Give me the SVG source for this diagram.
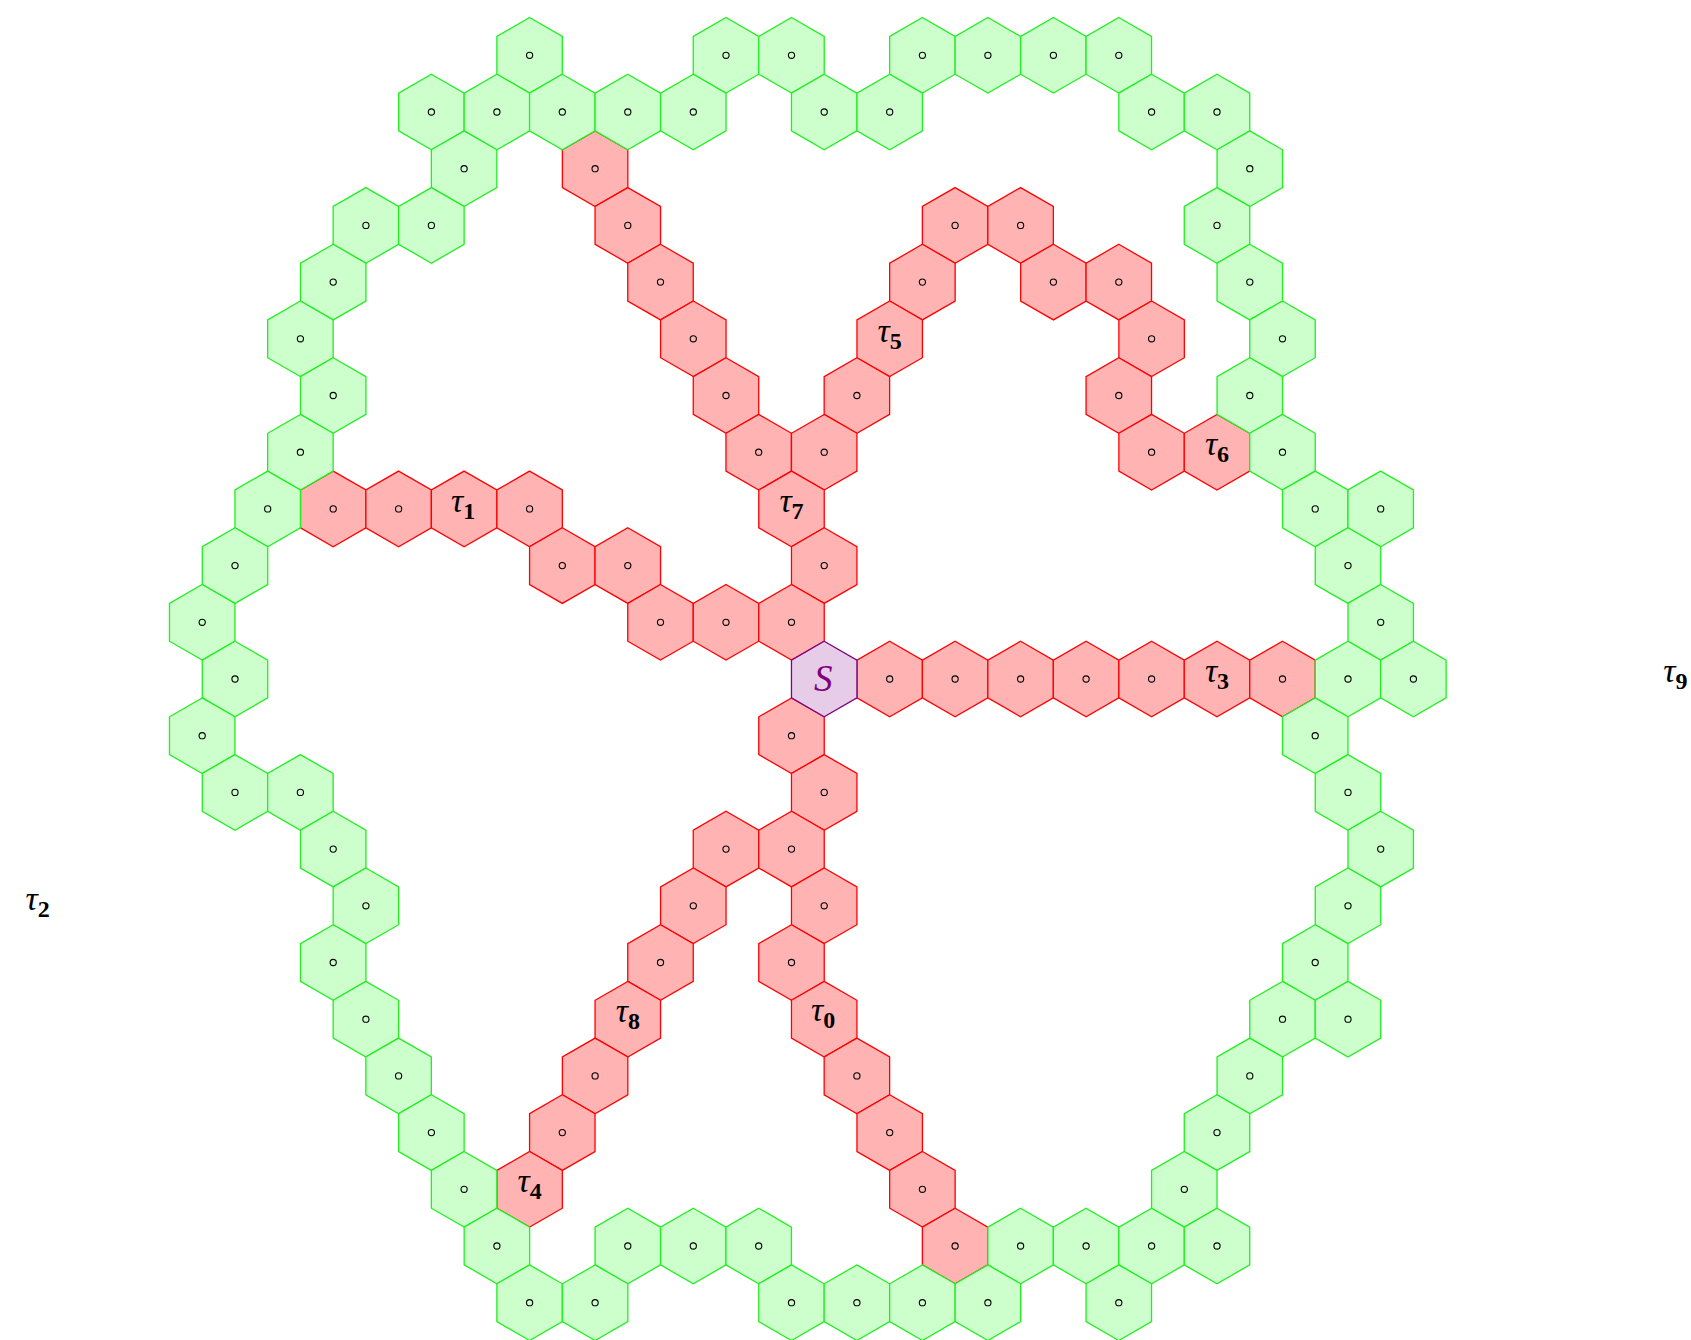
<svg xmlns="http://www.w3.org/2000/svg" xmlns:xlink="http://www.w3.org/1999/xlink" width="1691" height="1340" viewBox="0 0 1691 1340">
<style>
.r{fill:#ffb3b3;stroke:#ff0000;stroke-width:1.3}
.g{fill:#ccffcc;stroke:#22ee22;stroke-width:1.3}
.p{fill:#e6cce6;stroke:#800080;stroke-width:1.3}
.o{fill:none;stroke:#000;stroke-width:1.1}
.t{font-family:"Liberation Serif",serif;font-style:italic;font-size:34px;fill:#000;text-anchor:middle}
.s{font-style:normal;font-weight:bold;font-size:24px}
.S{font-family:"Liberation Serif",serif;font-style:italic;font-size:37px;fill:#800080;text-anchor:middle}
</style>
<defs>
<path id="h" d="M0,-37.8 L32.735,-18.9 L32.735,18.9 L0,37.8 L-32.735,18.9 L-32.735,-18.9 Z"/>
<circle id="o" class="o" cx="0" cy="0" r="3.1"/>
</defs>
<g id="connectors"></g>
<g id="red">
<g id="R1"><use href="#h" class="r" x="595.1" y="168.7"/><use href="#o" x="595.1" y="168.7"/></g>
<g id="R2"><use href="#h" class="r" x="627.8" y="225.4"/><use href="#o" x="627.8" y="225.4"/></g>
<g id="R3"><use href="#h" class="r" x="955.1" y="225.4"/><use href="#o" x="955.1" y="225.4"/></g>
<g id="R4"><use href="#h" class="r" x="1020.6" y="225.4"/><use href="#o" x="1020.6" y="225.4"/></g>
<g id="R5"><use href="#h" class="r" x="660.5" y="282.1"/><use href="#o" x="660.5" y="282.1"/></g>
<g id="R6"><use href="#h" class="r" x="922.4" y="282.1"/><use href="#o" x="922.4" y="282.1"/></g>
<g id="R7"><use href="#h" class="r" x="1053.4" y="282.1"/><use href="#o" x="1053.4" y="282.1"/></g>
<g id="R8"><use href="#h" class="r" x="1118.8" y="282.1"/><use href="#o" x="1118.8" y="282.1"/></g>
<g id="R9"><use href="#h" class="r" x="693.3" y="338.8"/><use href="#o" x="693.3" y="338.8"/></g>
<g id="tau5"><use href="#h" class="r" x="889.7" y="338.8"/><text class="t" x="889.7" y="341.5"><tspan>τ</tspan><tspan class="s" dy="7">5</tspan></text></g>
<g id="R11"><use href="#h" class="r" x="1151.6" y="338.8"/><use href="#o" x="1151.6" y="338.8"/></g>
<g id="R12"><use href="#h" class="r" x="726.0" y="395.5"/><use href="#o" x="726.0" y="395.5"/></g>
<g id="R13"><use href="#h" class="r" x="856.9" y="395.5"/><use href="#o" x="856.9" y="395.5"/></g>
<g id="R14"><use href="#h" class="r" x="1118.8" y="395.5"/><use href="#o" x="1118.8" y="395.5"/></g>
<g id="R15"><use href="#h" class="r" x="758.7" y="452.2"/><use href="#o" x="758.7" y="452.2"/></g>
<g id="R16"><use href="#h" class="r" x="824.2" y="452.2"/><use href="#o" x="824.2" y="452.2"/></g>
<g id="R17"><use href="#h" class="r" x="1151.6" y="452.2"/><use href="#o" x="1151.6" y="452.2"/></g>
<g id="tau6"><use href="#h" class="r" x="1217.0" y="452.2"/><text class="t" x="1217.0" y="454.9"><tspan>τ</tspan><tspan class="s" dy="7">6</tspan></text></g>
<g id="R19"><use href="#h" class="r" x="333.2" y="508.9"/><use href="#o" x="333.2" y="508.9"/></g>
<g id="R20"><use href="#h" class="r" x="398.6" y="508.9"/><use href="#o" x="398.6" y="508.9"/></g>
<g id="tau1"><use href="#h" class="r" x="464.1" y="508.9"/><text class="t" x="463.1" y="512.3"><tspan>τ</tspan><tspan class="s" dy="7">1</tspan></text></g>
<g id="R22"><use href="#h" class="r" x="529.6" y="508.9"/><use href="#o" x="529.6" y="508.9"/></g>
<g id="tau7"><use href="#h" class="r" x="791.5" y="508.9"/><text class="t" x="791.5" y="511.6"><tspan>τ</tspan><tspan class="s" dy="7">7</tspan></text></g>
<g id="R24"><use href="#h" class="r" x="562.3" y="565.6"/><use href="#o" x="562.3" y="565.6"/></g>
<g id="R25"><use href="#h" class="r" x="627.8" y="565.6"/><use href="#o" x="627.8" y="565.6"/></g>
<g id="R26"><use href="#h" class="r" x="824.2" y="565.6"/><use href="#o" x="824.2" y="565.6"/></g>
<g id="R27"><use href="#h" class="r" x="660.5" y="622.3"/><use href="#o" x="660.5" y="622.3"/></g>
<g id="R28"><use href="#h" class="r" x="726.0" y="622.3"/><use href="#o" x="726.0" y="622.3"/></g>
<g id="R29"><use href="#h" class="r" x="791.5" y="622.3"/><use href="#o" x="791.5" y="622.3"/></g>
<g id="R30"><use href="#h" class="r" x="889.7" y="679"/><use href="#o" x="889.7" y="679"/></g>
<g id="R31"><use href="#h" class="r" x="955.1" y="679"/><use href="#o" x="955.1" y="679"/></g>
<g id="R32"><use href="#h" class="r" x="1020.6" y="679"/><use href="#o" x="1020.6" y="679"/></g>
<g id="R33"><use href="#h" class="r" x="1086.1" y="679"/><use href="#o" x="1086.1" y="679"/></g>
<g id="R34"><use href="#h" class="r" x="1151.6" y="679"/><use href="#o" x="1151.6" y="679"/></g>
<g id="tau3"><use href="#h" class="r" x="1217.0" y="679"/><text class="t" x="1217.0" y="681.7"><tspan>τ</tspan><tspan class="s" dy="7">3</tspan></text></g>
<g id="R36"><use href="#h" class="r" x="1282.5" y="679"/><use href="#o" x="1282.5" y="679"/></g>
<g id="R37"><use href="#h" class="r" x="791.5" y="735.7"/><use href="#o" x="791.5" y="735.7"/></g>
<g id="R38"><use href="#h" class="r" x="824.2" y="792.4"/><use href="#o" x="824.2" y="792.4"/></g>
<g id="R39"><use href="#h" class="r" x="726.0" y="849.1"/><use href="#o" x="726.0" y="849.1"/></g>
<g id="R40"><use href="#h" class="r" x="791.5" y="849.1"/><use href="#o" x="791.5" y="849.1"/></g>
<g id="R41"><use href="#h" class="r" x="693.3" y="905.8"/><use href="#o" x="693.3" y="905.8"/></g>
<g id="R42"><use href="#h" class="r" x="824.2" y="905.8"/><use href="#o" x="824.2" y="905.8"/></g>
<g id="R43"><use href="#h" class="r" x="660.5" y="962.5"/><use href="#o" x="660.5" y="962.5"/></g>
<g id="R44"><use href="#h" class="r" x="791.5" y="962.5"/><use href="#o" x="791.5" y="962.5"/></g>
<g id="tau8"><use href="#h" class="r" x="627.8" y="1019.2"/><text class="t" x="627.8" y="1021.9"><tspan>τ</tspan><tspan class="s" dy="7">8</tspan></text></g>
<g id="tau0"><use href="#h" class="r" x="824.2" y="1019.2"/><text class="t" x="823.2" y="1020.5"><tspan>τ</tspan><tspan class="s" dy="7">0</tspan></text></g>
<g id="R47"><use href="#h" class="r" x="595.1" y="1075.9"/><use href="#o" x="595.1" y="1075.9"/></g>
<g id="R48"><use href="#h" class="r" x="856.9" y="1075.9"/><use href="#o" x="856.9" y="1075.9"/></g>
<g id="R49"><use href="#h" class="r" x="562.3" y="1132.6"/><use href="#o" x="562.3" y="1132.6"/></g>
<g id="R50"><use href="#h" class="r" x="889.7" y="1132.6"/><use href="#o" x="889.7" y="1132.6"/></g>
<g id="tau4"><use href="#h" class="r" x="529.6" y="1189.3"/><text class="t" x="529.6" y="1192"><tspan>τ</tspan><tspan class="s" dy="7">4</tspan></text></g>
<g id="R52"><use href="#h" class="r" x="922.4" y="1189.3"/><use href="#o" x="922.4" y="1189.3"/></g>
<g id="R53"><use href="#h" class="r" x="955.1" y="1246"/><use href="#o" x="955.1" y="1246"/></g>
</g>
<g id="green">
<g id="G1"><use href="#h" class="g" x="529.6" y="55.3"/><use href="#o" x="529.6" y="55.3"/></g>
<g id="G2"><use href="#h" class="g" x="726.0" y="55.3"/><use href="#o" x="726.0" y="55.3"/></g>
<g id="G3"><use href="#h" class="g" x="791.5" y="55.3"/><use href="#o" x="791.5" y="55.3"/></g>
<g id="G4"><use href="#h" class="g" x="922.4" y="55.3"/><use href="#o" x="922.4" y="55.3"/></g>
<g id="G5"><use href="#h" class="g" x="987.9" y="55.3"/><use href="#o" x="987.9" y="55.3"/></g>
<g id="G6"><use href="#h" class="g" x="1053.4" y="55.3"/><use href="#o" x="1053.4" y="55.3"/></g>
<g id="G7"><use href="#h" class="g" x="1118.8" y="55.3"/><use href="#o" x="1118.8" y="55.3"/></g>
<g id="G8"><use href="#h" class="g" x="431.4" y="112"/><use href="#o" x="431.4" y="112"/></g>
<g id="G9"><use href="#h" class="g" x="496.9" y="112"/><use href="#o" x="496.9" y="112"/></g>
<g id="G10"><use href="#h" class="g" x="562.3" y="112"/><use href="#o" x="562.3" y="112"/></g>
<g id="G11"><use href="#h" class="g" x="627.8" y="112"/><use href="#o" x="627.8" y="112"/></g>
<g id="G12"><use href="#h" class="g" x="693.3" y="112"/><use href="#o" x="693.3" y="112"/></g>
<g id="G13"><use href="#h" class="g" x="824.2" y="112"/><use href="#o" x="824.2" y="112"/></g>
<g id="G14"><use href="#h" class="g" x="889.7" y="112"/><use href="#o" x="889.7" y="112"/></g>
<g id="G15"><use href="#h" class="g" x="1151.6" y="112"/><use href="#o" x="1151.6" y="112"/></g>
<g id="G16"><use href="#h" class="g" x="1217.0" y="112"/><use href="#o" x="1217.0" y="112"/></g>
<g id="G17"><use href="#h" class="g" x="464.1" y="168.7"/><use href="#o" x="464.1" y="168.7"/></g>
<g id="G18"><use href="#h" class="g" x="1249.8" y="168.7"/><use href="#o" x="1249.8" y="168.7"/></g>
<g id="G19"><use href="#h" class="g" x="365.9" y="225.4"/><use href="#o" x="365.9" y="225.4"/></g>
<g id="G20"><use href="#h" class="g" x="431.4" y="225.4"/><use href="#o" x="431.4" y="225.4"/></g>
<g id="G21"><use href="#h" class="g" x="1217.0" y="225.4"/><use href="#o" x="1217.0" y="225.4"/></g>
<g id="G22"><use href="#h" class="g" x="333.2" y="282.1"/><use href="#o" x="333.2" y="282.1"/></g>
<g id="G23"><use href="#h" class="g" x="1249.8" y="282.1"/><use href="#o" x="1249.8" y="282.1"/></g>
<g id="G24"><use href="#h" class="g" x="300.4" y="338.8"/><use href="#o" x="300.4" y="338.8"/></g>
<g id="G25"><use href="#h" class="g" x="1282.5" y="338.8"/><use href="#o" x="1282.5" y="338.8"/></g>
<g id="G26"><use href="#h" class="g" x="333.2" y="395.5"/><use href="#o" x="333.2" y="395.5"/></g>
<g id="G27"><use href="#h" class="g" x="1249.8" y="395.5"/><use href="#o" x="1249.8" y="395.5"/></g>
<g id="G28"><use href="#h" class="g" x="300.4" y="452.2"/><use href="#o" x="300.4" y="452.2"/></g>
<g id="G29"><use href="#h" class="g" x="1282.5" y="452.2"/><use href="#o" x="1282.5" y="452.2"/></g>
<g id="G30"><use href="#h" class="g" x="267.7" y="508.9"/><use href="#o" x="267.7" y="508.9"/></g>
<g id="G31"><use href="#h" class="g" x="1315.2" y="508.9"/><use href="#o" x="1315.2" y="508.9"/></g>
<g id="G32"><use href="#h" class="g" x="1380.7" y="508.9"/><use href="#o" x="1380.7" y="508.9"/></g>
<g id="G33"><use href="#h" class="g" x="235.0" y="565.6"/><use href="#o" x="235.0" y="565.6"/></g>
<g id="G34"><use href="#h" class="g" x="1348.0" y="565.6"/><use href="#o" x="1348.0" y="565.6"/></g>
<g id="G35"><use href="#h" class="g" x="202.2" y="622.3"/><use href="#o" x="202.2" y="622.3"/></g>
<g id="G36"><use href="#h" class="g" x="1380.7" y="622.3"/><use href="#o" x="1380.7" y="622.3"/></g>
<g id="G37"><use href="#h" class="g" x="235.0" y="679"/><use href="#o" x="235.0" y="679"/></g>
<g id="G38"><use href="#h" class="g" x="1348.0" y="679"/><use href="#o" x="1348.0" y="679"/></g>
<g id="G39"><use href="#h" class="g" x="1413.4" y="679"/><use href="#o" x="1413.4" y="679"/></g>
<g id="G40"><use href="#h" class="g" x="202.2" y="735.7"/><use href="#o" x="202.2" y="735.7"/></g>
<g id="G41"><use href="#h" class="g" x="1315.2" y="735.7"/><use href="#o" x="1315.2" y="735.7"/></g>
<g id="G42"><use href="#h" class="g" x="235.0" y="792.4"/><use href="#o" x="235.0" y="792.4"/></g>
<g id="G43"><use href="#h" class="g" x="300.4" y="792.4"/><use href="#o" x="300.4" y="792.4"/></g>
<g id="G44"><use href="#h" class="g" x="1348.0" y="792.4"/><use href="#o" x="1348.0" y="792.4"/></g>
<g id="G45"><use href="#h" class="g" x="333.2" y="849.1"/><use href="#o" x="333.2" y="849.1"/></g>
<g id="G46"><use href="#h" class="g" x="1380.7" y="849.1"/><use href="#o" x="1380.7" y="849.1"/></g>
<g id="G47"><use href="#h" class="g" x="365.9" y="905.8"/><use href="#o" x="365.9" y="905.8"/></g>
<g id="G48"><use href="#h" class="g" x="1348.0" y="905.8"/><use href="#o" x="1348.0" y="905.8"/></g>
<g id="G49"><use href="#h" class="g" x="333.2" y="962.5"/><use href="#o" x="333.2" y="962.5"/></g>
<g id="G50"><use href="#h" class="g" x="1315.2" y="962.5"/><use href="#o" x="1315.2" y="962.5"/></g>
<g id="G51"><use href="#h" class="g" x="365.9" y="1019.2"/><use href="#o" x="365.9" y="1019.2"/></g>
<g id="G52"><use href="#h" class="g" x="1282.5" y="1019.2"/><use href="#o" x="1282.5" y="1019.2"/></g>
<g id="G53"><use href="#h" class="g" x="1348.0" y="1019.2"/><use href="#o" x="1348.0" y="1019.2"/></g>
<g id="G54"><use href="#h" class="g" x="398.6" y="1075.9"/><use href="#o" x="398.6" y="1075.9"/></g>
<g id="G55"><use href="#h" class="g" x="1249.8" y="1075.9"/><use href="#o" x="1249.8" y="1075.9"/></g>
<g id="G56"><use href="#h" class="g" x="431.4" y="1132.6"/><use href="#o" x="431.4" y="1132.6"/></g>
<g id="G57"><use href="#h" class="g" x="1217.0" y="1132.6"/><use href="#o" x="1217.0" y="1132.6"/></g>
<g id="G58"><use href="#h" class="g" x="464.1" y="1189.3"/><use href="#o" x="464.1" y="1189.3"/></g>
<g id="G59"><use href="#h" class="g" x="1184.3" y="1189.3"/><use href="#o" x="1184.3" y="1189.3"/></g>
<g id="G60"><use href="#h" class="g" x="496.9" y="1246"/><use href="#o" x="496.9" y="1246"/></g>
<g id="G61"><use href="#h" class="g" x="627.8" y="1246"/><use href="#o" x="627.8" y="1246"/></g>
<g id="G62"><use href="#h" class="g" x="693.3" y="1246"/><use href="#o" x="693.3" y="1246"/></g>
<g id="G63"><use href="#h" class="g" x="758.7" y="1246"/><use href="#o" x="758.7" y="1246"/></g>
<g id="G64"><use href="#h" class="g" x="1020.6" y="1246"/><use href="#o" x="1020.6" y="1246"/></g>
<g id="G65"><use href="#h" class="g" x="1086.1" y="1246"/><use href="#o" x="1086.1" y="1246"/></g>
<g id="G66"><use href="#h" class="g" x="1151.6" y="1246"/><use href="#o" x="1151.6" y="1246"/></g>
<g id="G67"><use href="#h" class="g" x="1217.0" y="1246"/><use href="#o" x="1217.0" y="1246"/></g>
<g id="G68"><use href="#h" class="g" x="529.6" y="1302.7"/><use href="#o" x="529.6" y="1302.7"/></g>
<g id="G69"><use href="#h" class="g" x="595.1" y="1302.7"/><use href="#o" x="595.1" y="1302.7"/></g>
<g id="G70"><use href="#h" class="g" x="791.5" y="1302.7"/><use href="#o" x="791.5" y="1302.7"/></g>
<g id="G71"><use href="#h" class="g" x="856.9" y="1302.7"/><use href="#o" x="856.9" y="1302.7"/></g>
<g id="G72"><use href="#h" class="g" x="922.4" y="1302.7"/><use href="#o" x="922.4" y="1302.7"/></g>
<g id="G73"><use href="#h" class="g" x="987.9" y="1302.7"/><use href="#o" x="987.9" y="1302.7"/></g>
<g id="G74"><use href="#h" class="g" x="1118.8" y="1302.7"/><use href="#o" x="1118.8" y="1302.7"/></g>
</g>
<g id="S"><use href="#h" class="p" x="824.2" y="679"/><text class="S" x="823.2" y="691">S</text></g>
<g id="tau2"><text class="t" x="37.6" y="909.5"><tspan>τ</tspan><tspan class="s" dy="7">2</tspan></text></g>
<g id="tau9"><text class="t" x="1675.3" y="681.7"><tspan>τ</tspan><tspan class="s" dy="7">9</tspan></text></g>
</svg>
